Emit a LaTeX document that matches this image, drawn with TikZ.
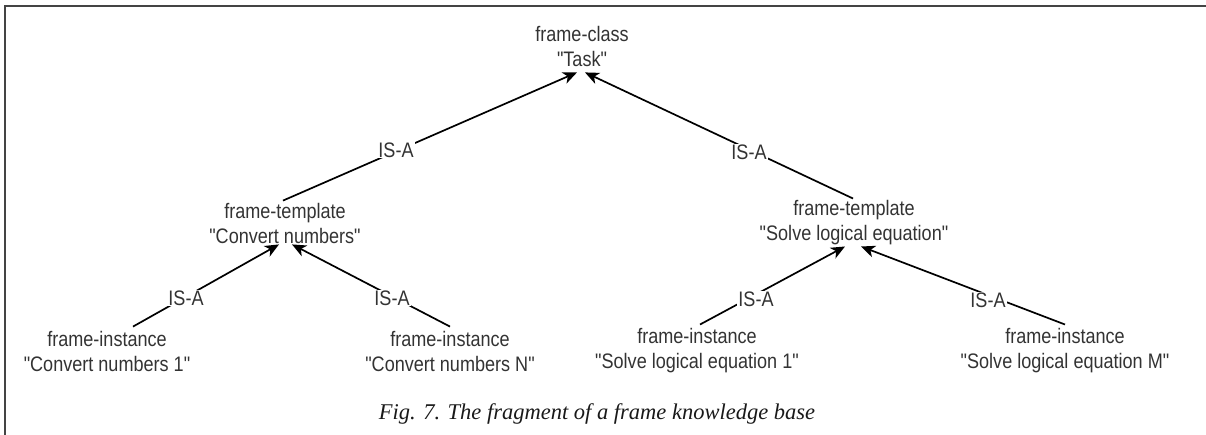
\documentclass[tikz,border=0pt]{standalone}
\usepackage{fontspec}
\setmainfont{Liberation Sans}
\newfontfamily\lblfont[FakeStretch=0.86]{Liberation Sans}
\newfontfamily\capfont{Liberation Serif}
\usetikzlibrary{arrows.meta}
\definecolor{txt}{HTML}{333333}
\definecolor{brd}{HTML}{444444}
\tikzset{
  frm/.style={font=\lblfont\fontsize{21}{25}\selectfont, align=center, text=txt, inner sep=0pt},
  isalbl/.style={font=\lblfont\fontsize{21}{25}\selectfont, text=txt, fill=white, inner sep=1pt},
  isa/.style={line width=1.7pt, draw=black, -{Stealth[length=14pt,width=12pt,inset=4pt]}},
}
\begin{document}
\begin{tikzpicture}[x=1pt,y=-1pt]
\useasboundingbox (0,0) rectangle (1206,435);
\draw[brd, line width=2pt] (1206,6) -- (5,6) -- (5,435);

\node[frm] (task) at (582,46) {frame-class\\"Task"};
\node[frm] (cn) at (285,223) {frame-template\\"Convert numbers"};
\node[frm] (sl) at (854,223) {frame-template\\"Solve logical equation"};
\node[frm] (c1) at (107,351) {frame-instance\\"Convert numbers 1"};
\node[frm] (cN) at (450,351) {frame-instance\\"Convert numbers N"};
\node[frm] (s1) at (697,351) {frame-instance\\"Solve logical equation 1"};
\node[frm] (sM) at (1065,351) {frame-instance\\"Solve logical equation M"};

\draw[isa] ([xshift=-2pt,yshift=2pt]cn.north) -- ([xshift=-5pt,yshift=-6pt]task.south);
\draw[isa] ([xshift=-1pt,yshift=2pt]sl.north) -- ([xshift=3pt,yshift=-6pt]task.south);
\draw[isa] ([xshift=26pt,yshift=4pt]c1.north) -- ([xshift=-6pt,yshift=-1pt]cn.south);
\draw[isa] ([xshift=0pt,yshift=4pt]cN.north) -- ([xshift=7pt,yshift=-1pt]cn.south);
\draw[isa] ([xshift=3pt,yshift=4pt]s1.north) -- ([xshift=-9pt,yshift=-1pt]sl.south);
\draw[isa] ([xshift=0pt,yshift=4pt]sM.north) -- ([xshift=7pt,yshift=-1pt]sl.south);

\node[isalbl] (l1) at (396,150) {IS-A};
\node[isalbl] (l2) at (749,152) {IS-A};
\node[isalbl] (l3) at (186,298) {IS-A};
\node[isalbl] (l4) at (392,298) {IS-A};
\node[isalbl] (l5) at (756,299) {IS-A};
\node[isalbl] (l6) at (988,300) {IS-A};

\node[font=\capfont\itshape\fontsize{22.5}{25}\selectfont, text=black!90] (cap) at (597,414) {Fig. 7. The fragment of a frame knowledge base};
\end{tikzpicture}
\end{document}
